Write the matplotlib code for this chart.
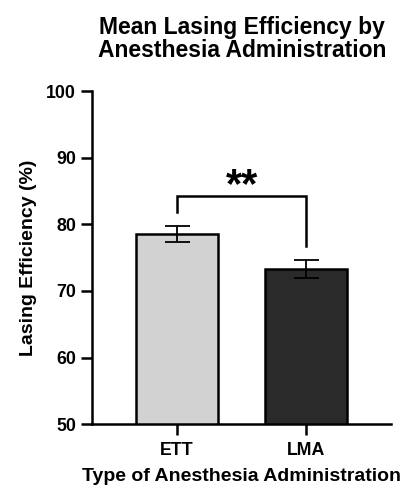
import matplotlib
matplotlib.use("Agg")
import matplotlib.pyplot as plt

plt.rcParams["font.family"] = ["Liberation Sans", "DejaVu Sans"]
plt.rcParams["font.weight"] = "bold"

groups = ["ETT", "LMA"]
means = [78.6, 73.3]
sem = [1.2, 1.35]
bar_colors = ["#d2d2d2", "#2a2a2a"]
sig_label = "**"
sig_y = 84.3
sig_leg_bottom = [81.9, 76.8]

fig = plt.figure(figsize=(4.04, 4.87), dpi=100)
ax = fig.add_axes([0.228, 0.129, 0.740, 0.684])

x = list(range(len(groups)))
ax.bar(x, means, width=0.64, color=bar_colors, edgecolor="black", linewidth=1.8, zorder=2)
ax.errorbar(x, means, yerr=sem, fmt="none", ecolor="black", elinewidth=1.3, capsize=9, capthick=1.3, zorder=3)

# significance bracket
ax.plot([x[0], x[0], x[1], x[1]], [sig_leg_bottom[0], sig_y, sig_y, sig_leg_bottom[1]],
        color="black", linewidth=1.8, solid_joinstyle="miter")
ax.text((x[0] + x[1]) / 2, sig_y - 1.6, sig_label, ha="center", va="bottom", fontsize=30, fontweight="bold")

ax.set_xlim(-0.66, 1.66)
ax.set_ylim(50, 100)
ax.set_yticks([50, 60, 70, 80, 90, 100])
ax.set_xticks(x)
ax.set_xticklabels(groups)
ax.spines["top"].set_visible(False)
ax.spines["right"].set_visible(False)
ax.spines["left"].set_linewidth(1.8)
ax.spines["bottom"].set_linewidth(1.8)
ax.tick_params(axis="both", width=1.8, length=8, labelsize=12.8)
ax.tick_params(axis="x", pad=5)
for lab in ax.get_xticklabels() + ax.get_yticklabels():
    lab.set_fontweight("bold")

ax.set_ylabel("Lasing Efficiency (%)", fontsize=14, fontweight="bold", labelpad=7)
ax.set_xlabel("Type of Anesthesia Administration", fontsize=14, fontweight="bold", labelpad=6)
fig.text(0.6, 0.968, "Mean Lasing Efficiency by\nAnesthesia Administration", ha="center", va="top",
         fontsize=16.5, fontweight="bold", linespacing=1.0)

fig.savefig("out.png", dpi=100)
